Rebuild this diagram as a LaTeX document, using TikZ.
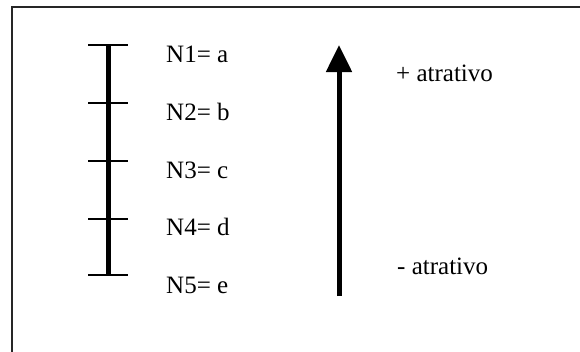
\documentclass[tikz,border=0pt]{standalone}
\usepackage{fontspec}
\setmainfont{Liberation Serif}
\usetikzlibrary{arrows.meta}
\begin{document}
\begin{tikzpicture}[x=1pt,y=-1pt,
  lbl/.style={anchor=base west,inner sep=0pt,font=\fontsize{25}{28}\selectfont},
  tick/.style={line width=1.3pt},
  bar/.style={line width=5pt},
  frame/.style={line width=1.6pt,draw=black!85}]
\useasboundingbox (0,0) rectangle (580,351);
\draw[frame] (12,360) -- (12,7) -- (590,7);
% scale
\coordinate (t1) at (108,45);
\coordinate (t2) at (108,103);
\coordinate (t3) at (108,161);
\coordinate (t4) at (108,219);
\coordinate (t5) at (108,275);
\draw[bar] (t1) -- (t5);
\foreach \i in {1,...,5}{\draw[tick] ([xshift=-20pt]t\i) -- ([xshift=20pt]t\i);}
\node[lbl] (n1) at (166,62) {N1= a};
\node[lbl] (n2) at (166,120) {N2= b};
\node[lbl] (n3) at (166,178) {N3= c};
\node[lbl] (n4) at (166,235) {N4= d};
\node[lbl] (n5) at (166,293) {N5= e};
% arrow
\coordinate (abot) at (339,296);
\coordinate (atop) at (339,45);
\draw[line width=5pt,-{Triangle[width=25pt,length=27pt]}] (abot) -- (atop);
\node[lbl] (plus) at (396,81) {+ atrativo};
\node[lbl] (minus) at (397,274) {- atrativo};
\end{tikzpicture}
\end{document}
